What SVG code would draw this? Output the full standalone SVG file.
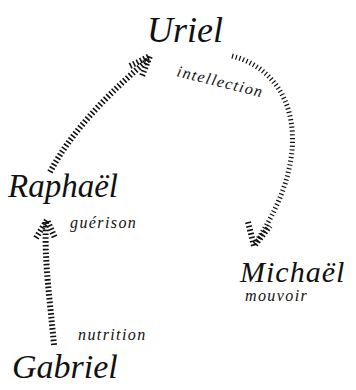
<svg xmlns="http://www.w3.org/2000/svg" width="356" height="390" viewBox="0 0 356 390">
<style>
.name{font-family:"Liberation Serif",serif;font-style:italic;fill:#111}
.lab{font-family:"Liberation Serif",serif;font-style:italic;fill:#111;font-size:16px;letter-spacing:1.4px}
.hatch{fill:none;stroke:#111;stroke-width:6;stroke-dasharray:1.6 2.2}
.hatchthin{fill:none;stroke:#111;stroke-width:5;stroke-dasharray:1.2 2.6}
</style>
<rect width="356" height="390" fill="#fff"/>
<g id="connectors">
  <path class="hatch" d="M50,172 C72,130 112,90 148,60"/>
  <path class="hatch" d="M130,66 L150,56 L142,76"/>
  <path class="hatchthin" d="M232,56 C295,72 318,150 256,242"/>
  <path class="hatch" d="M248,222 L254,246 L270,226"/>
  <path class="hatch" d="M54,345 C50,300 44,260 46,222"/>
  <path class="hatch" d="M36,238 L47,220 L55,238"/>
</g>
<g id="uriel"><text class="name" x="147" y="42" font-size="36">Uriel</text></g>
<g id="intellection"><text class="lab" x="176" y="76" transform="rotate(14 176 76)">intellection</text></g>
<g id="raphael"><text class="name" x="8" y="197" font-size="33">Raphaël</text></g>
<g id="guerison"><text class="lab" x="70" y="228">guérison</text></g>
<g id="michael"><text class="name" x="240" y="282" font-size="30" letter-spacing="1">Michaël</text></g>
<g id="mouvoir"><text class="lab" x="245" y="301" font-size="15">mouvoir</text></g>
<g id="nutrition"><text class="lab" x="78" y="340">nutrition</text></g>
<g id="gabriel"><text class="name" x="12" y="378" font-size="34">Gabriel</text></g>
</svg>
